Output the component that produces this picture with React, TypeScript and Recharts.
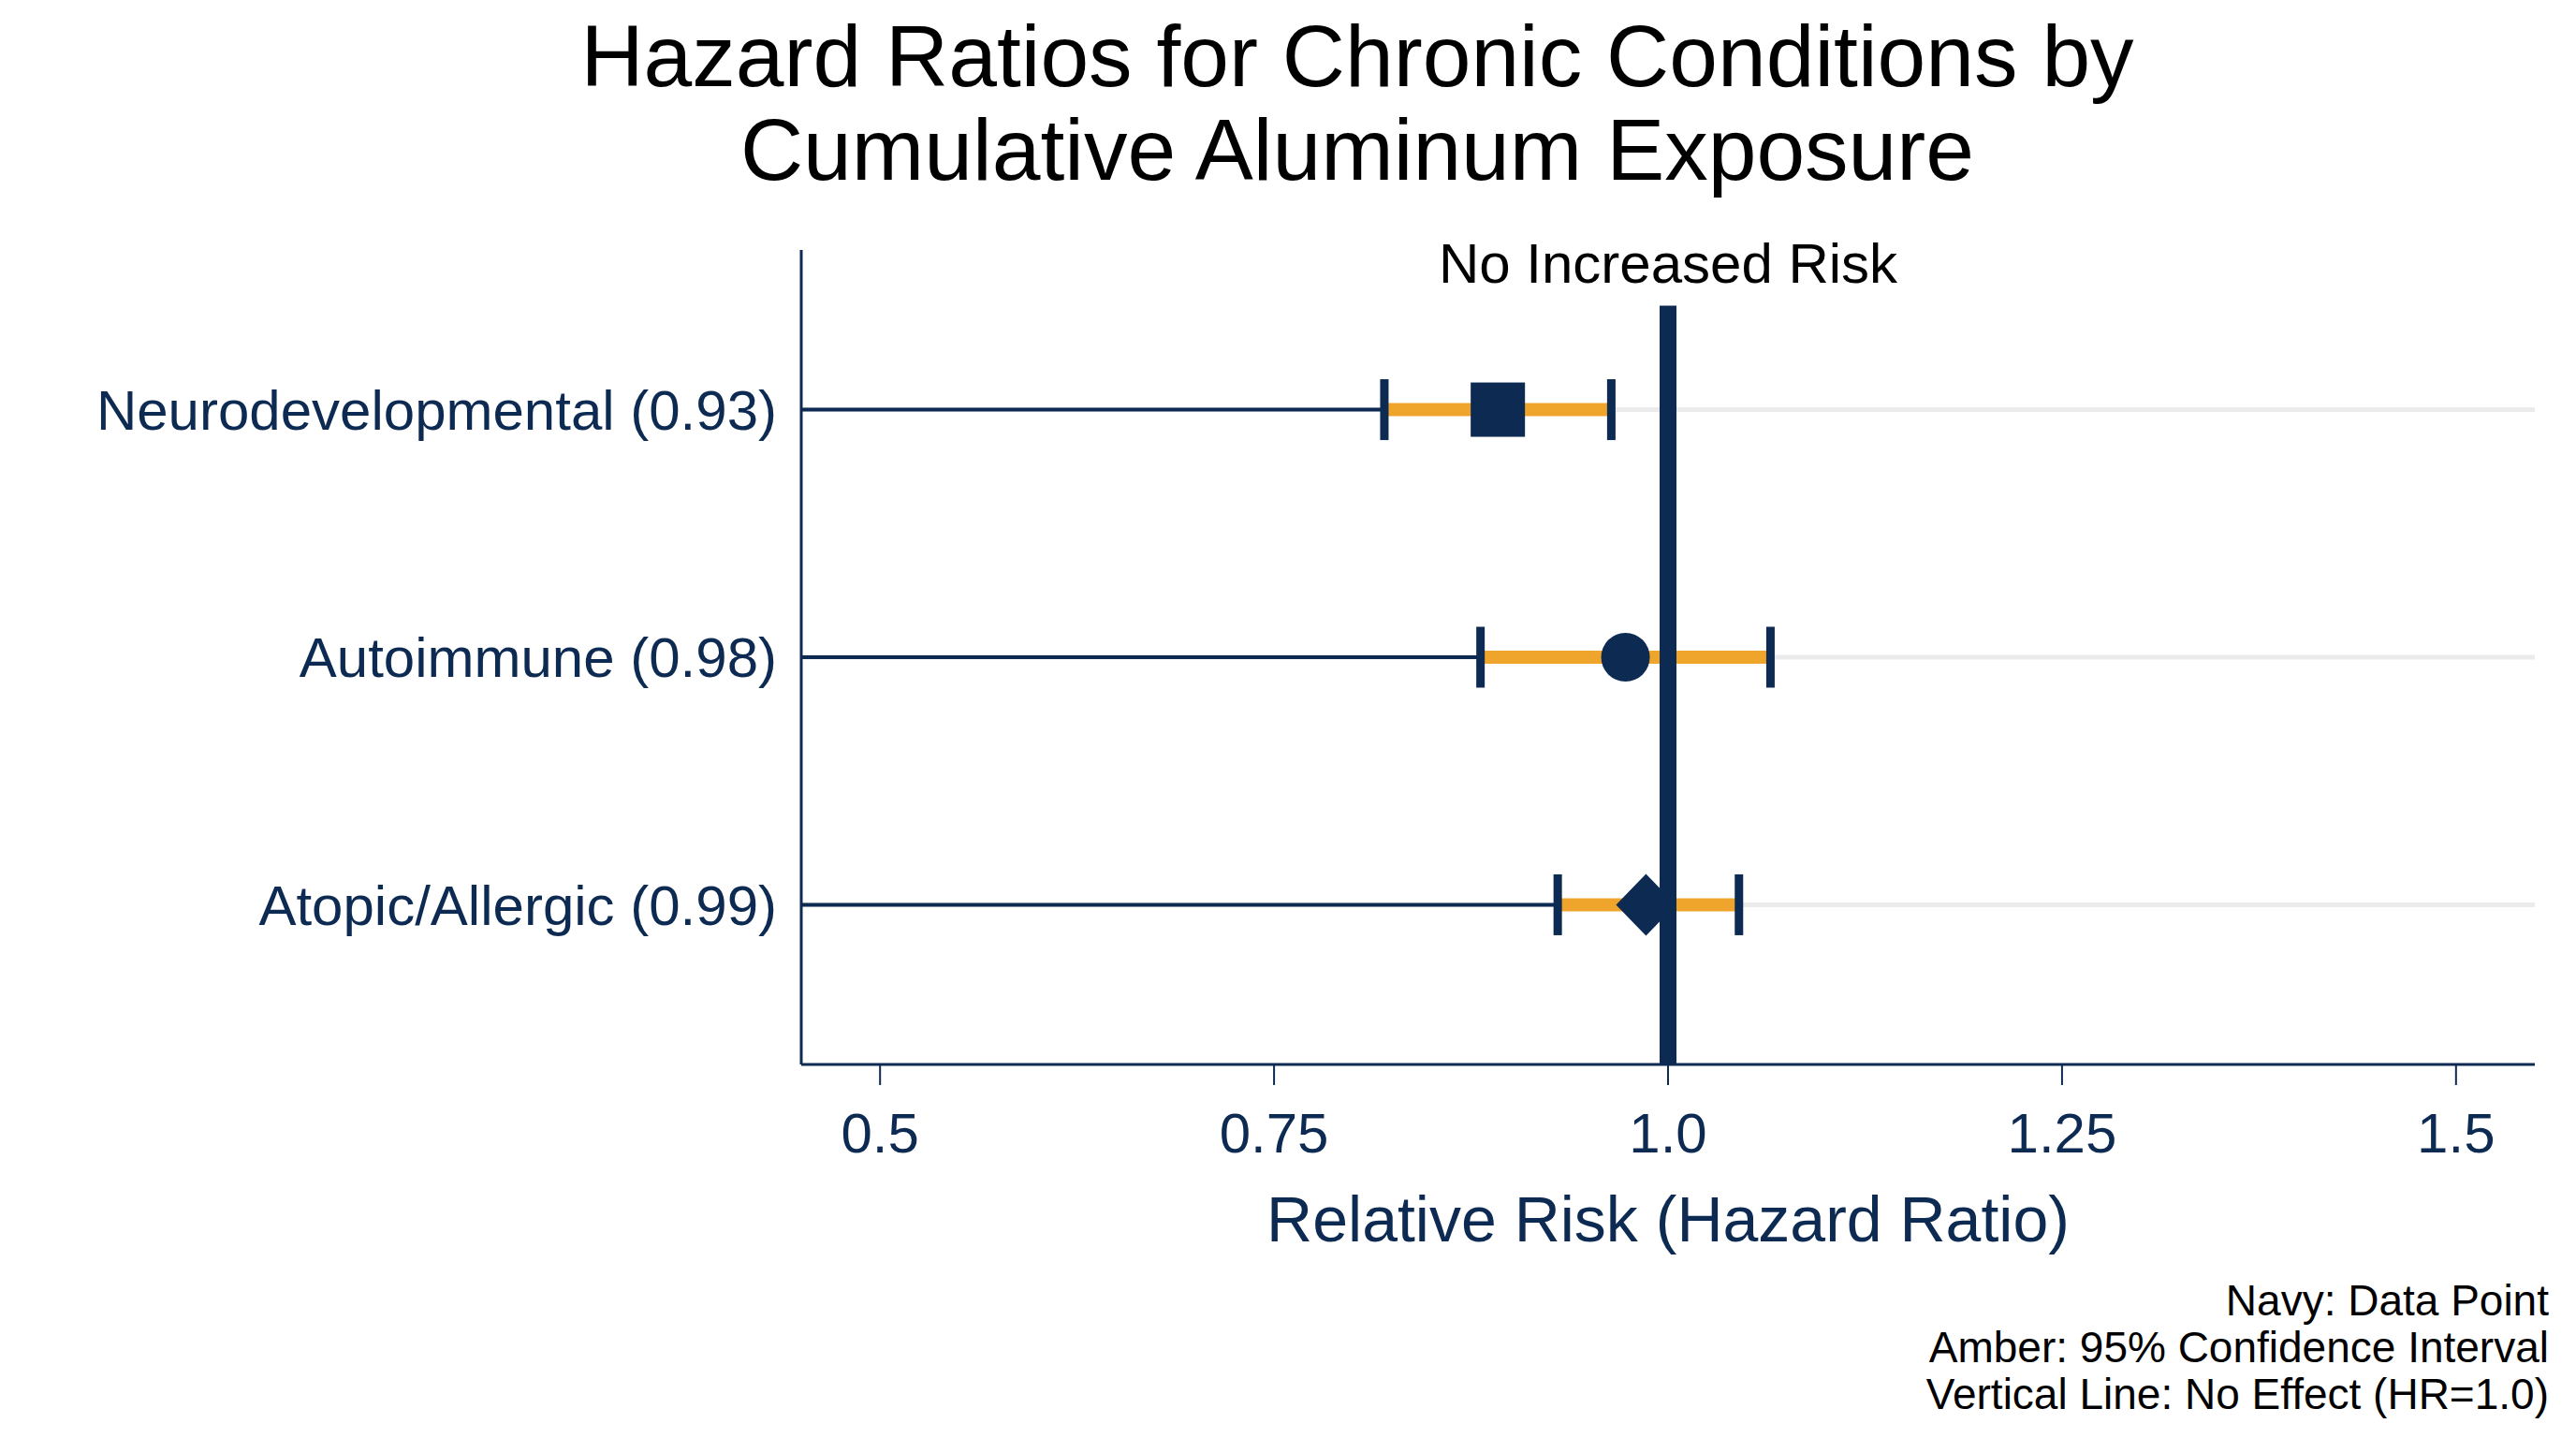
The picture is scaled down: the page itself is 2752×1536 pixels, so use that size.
import React from 'react';
import {
  ScatterChart,
  Scatter,
  XAxis,
  YAxis,
  ReferenceLine,
} from 'recharts';

// ---- data ----
const categories = ['Neurodevelopmental (0.93)', 'Autoimmune (0.98)', 'Atopic/Allergic (0.99)'];
const hazardRatios = [0.892, 0.973, 0.986];
const ciLower = [0.82, 0.881, 0.93];
const ciUpper = [0.964, 1.065, 1.045];
const markerShapes = ['square', 'circle', 'diamond'];
const xTicks = [0.5, 0.75, 1.0, 1.25, 1.5];
const xTickLabels = ['0.5', '0.75', '1.0', '1.25', '1.5'];
const xDomain = [0.45, 1.55];
const yDomain = [-0.645, 2.645];
const rowIndex = [0, 1, 2];
const noEffectValue = 1.0;
const noEffectTop = -0.42;
const titleLines = ['Hazard Ratios for Chronic Conditions by', 'Cumulative Aluminum Exposure'];
const noteLines = ['Navy: Data Point', 'Amber: 95% Confidence Interval', 'Vertical Line: No Effect (HR=1.0)'];

const NAVY = '#0d2a52';
const AMBER = '#efa52b';
const GRID = '#ebebeb';
const FONT = '"Liberation Sans", Arial, Helvetica, sans-serif';

const points = categories.map((c, i) => ({
  x: hazardRatios[i],
  y: rowIndex[i],
  shape: markerShapes[i],
  name: c,
}));

const MarkerShape = (props: any) => {
  const { cx, cy, payload } = props;
  if (cx == null || cy == null) return <g />;
  const kind = payload?.shape;
  if (kind === 'square') {
    return <rect x={cx - 29} y={cy - 29} width={58} height={58} fill={NAVY} />;
  }
  if (kind === 'circle') {
    return <circle cx={cx} cy={cy} r={26} fill={NAVY} />;
  }
  return (
    <polygon
      points={`${cx},${cy - 33} ${cx + 32},${cy} ${cx},${cy + 33} ${cx - 32},${cy}`}
      fill={NAVY}
    />
  );
};

const CIShape = (props: any) => {
  const { x1, y1, x2, y2 } = props;
  if (x1 == null) return <g />;
  return (
    <g>
      <line x1={x1} y1={y1} x2={x2} y2={y2} stroke={AMBER} strokeWidth={14} />
      <rect x={x1 - 4.5} y={y1 - 32.5} width={9} height={65} fill={NAVY} />
      <rect x={x2 - 4.5} y={y2 - 32.5} width={9} height={65} fill={NAVY} />
    </g>
  );
};

export default function App() {
  return (
    <div
      style={{
        position: 'absolute',
        left: 0,
        top: 0,
        width: 2752,
        height: 1536,
        background: '#ffffff',
        fontFamily: FONT,
      }}
    >
      <ScatterChart
        width={2752}
        height={1536}
        margin={{ top: 267, right: 44, bottom: 258, left: 0 }}
      >
        <XAxis
          type="number"
          dataKey="x"
          domain={xDomain}
          ticks={xTicks}
          allowDataOverflow
          tickFormatter={(v: number) => xTickLabels[xTicks.indexOf(v)] ?? String(v)}
          height={141}
          tickSize={22}
          tickMargin={29}
          axisLine={{ stroke: NAVY, strokeWidth: 3 }}
          tickLine={{ stroke: NAVY, strokeWidth: 2 }}
          tick={{ fill: NAVY, fontSize: 60, fontFamily: FONT }}
          label={{
            value: 'Relative Risk (Hazard Ratio)',
            position: 'bottom',
            offset: 0,
            fill: NAVY,
            fontSize: 68,
            fontFamily: FONT,
          }}
        />
        <YAxis
          type="number"
          dataKey="y"
          domain={yDomain}
          reversed
          allowDataOverflow
          ticks={rowIndex}
          interval={0}
          tickFormatter={(v: number) => categories[v] ?? ''}
          width={856}
          tickLine={false}
          tickSize={6}
          tickMargin={20}
          axisLine={{ stroke: NAVY, strokeWidth: 3 }}
          tick={{ fill: NAVY, fontSize: 60, fontFamily: FONT }}
        />
        {rowIndex.map((i) => (
          <ReferenceLine
            key={`grid-${i}`}
            y={i}
            stroke={GRID}
            strokeWidth={5}
          />
        ))}
        {rowIndex.map((i) => (
          <ReferenceLine
            key={`lead-${i}`}
            segment={[
              { x: xDomain[0], y: i },
              { x: ciLower[i], y: i },
            ]}
            stroke={NAVY}
            strokeWidth={4}
            ifOverflow="visible"
          />
        ))}
        {rowIndex.map((i) => (
          <ReferenceLine
            key={`ci-${i}`}
            segment={[
              { x: ciLower[i], y: i },
              { x: ciUpper[i], y: i },
            ]}
            stroke={AMBER}
            strokeWidth={14}
            ifOverflow="visible"
            shape={CIShape}
          />
        ))}
        <Scatter
          data={points}
          dataKey="y"
          isAnimationActive={false}
          shape={MarkerShape}
        />
        <ReferenceLine
          segment={[
            { x: noEffectValue, y: noEffectTop },
            { x: noEffectValue, y: yDomain[1] },
          ]}
          stroke={NAVY}
          strokeWidth={18}
          ifOverflow="visible"
          zIndex={700}
          label={{
            value: 'No Increased Risk',
            position: 'top',
            offset: 24,
            fill: '#000000',
            fontSize: 60,
            fontFamily: FONT,
          }}
        />
      </ScatterChart>
      <svg
        width={2752}
        height={1536}
        style={{ position: 'absolute', left: 0, top: 0, pointerEvents: 'none' }}
      >
        {titleLines.map((t, i) => (
          <text
            key={t}
            x={1450}
            y={92 + i * 100}
            textAnchor="middle"
            fontSize={93}
            fontFamily={FONT}
            fill="#000000"
          >
            {t}
          </text>
        ))}
        {noteLines.map((t, i) => (
          <text
            key={t}
            x={2723}
            y={1405 + i * 50}
            textAnchor="end"
            fontSize={46}
            fontFamily={FONT}
            fill="#000000"
          >
            {t}
          </text>
        ))}
      </svg>
    </div>
  );
}
